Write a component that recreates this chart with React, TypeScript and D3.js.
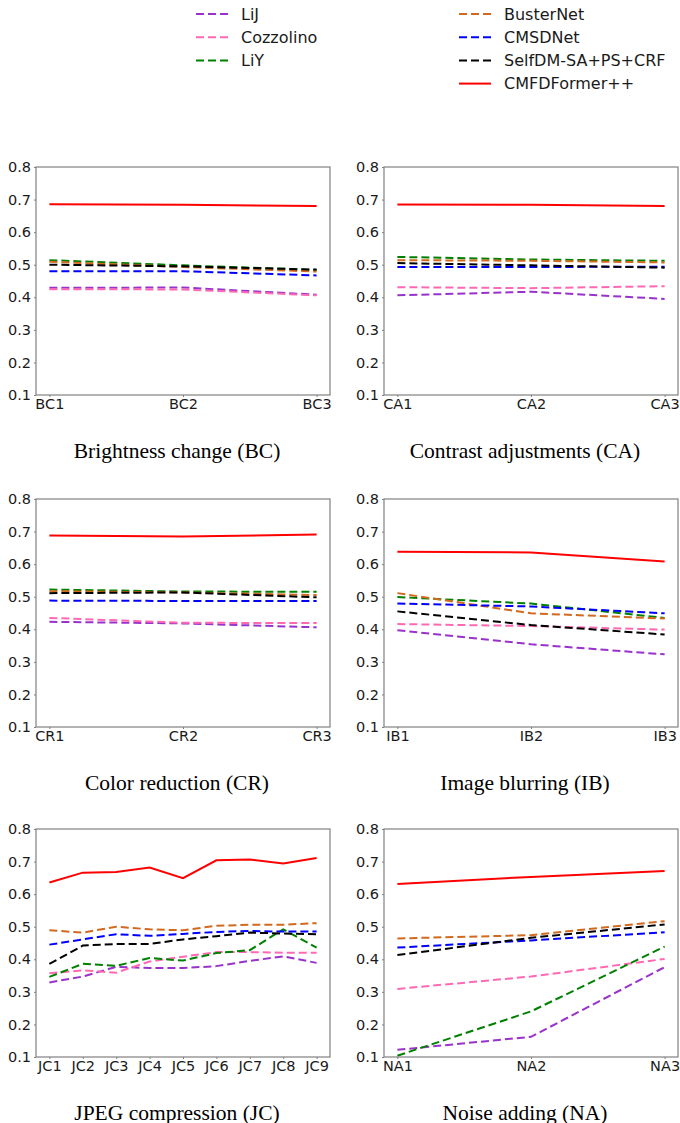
import React, {useEffect, useRef} from 'react';
import * as d3 from 'd3';

const methods = ['LiJ', 'Cozzolino', 'LiY', 'BusterNet', 'CMSDNet', 'SelfDM-SA+PS+CRF', 'CMFDFormer++'];
const colors = ['#9932CC', '#FF69B4', '#008000', '#D2691E', '#0000FF', '#000000', '#FF0000'];
const yTicks = [0.1, 0.2, 0.3, 0.4, 0.5, 0.6, 0.7, 0.8];

const panelTitles = ['Brightness change (BC)', 'Contrast adjustments (CA)', 'Color reduction (CR)',
    'Image blurring (IB)', 'JPEG compression (JC)', 'Noise adding (NA)'];

const bcLabels = ['BC1', 'BC2', 'BC3'];
const caLabels = ['CA1', 'CA2', 'CA3'];
const crLabels = ['CR1', 'CR2', 'CR3'];
const ibLabels = ['IB1', 'IB2', 'IB3'];
const jcLabels = ['JC1', 'JC2', 'JC3', 'JC4', 'JC5', 'JC6', 'JC7', 'JC8', 'JC9'];
const naLabels = ['NA1', 'NA2', 'NA3'];

// one row per method, same order as `methods`
const bcValues = [
    [0.429, 0.430, 0.408],
    [0.425, 0.424, 0.406],
    [0.514, 0.498, 0.484],
    [0.509, 0.493, 0.479],
    [0.480, 0.480, 0.467],
    [0.500, 0.495, 0.485],
    [0.686, 0.684, 0.680],
];
const caValues = [
    [0.406, 0.417, 0.395],
    [0.431, 0.428, 0.434],
    [0.524, 0.516, 0.512],
    [0.514, 0.512, 0.507],
    [0.493, 0.493, 0.494],
    [0.505, 0.498, 0.491],
    [0.685, 0.684, 0.680],
];
const crValues = [
    [0.423, 0.418, 0.406],
    [0.435, 0.420, 0.419],
    [0.522, 0.516, 0.515],
    [0.517, 0.513, 0.505],
    [0.488, 0.487, 0.487],
    [0.511, 0.513, 0.498],
    [0.688, 0.685, 0.691],
];
const ibValues = [
    [0.397, 0.354, 0.323],
    [0.416, 0.410, 0.399],
    [0.499, 0.479, 0.435],
    [0.511, 0.449, 0.433],
    [0.479, 0.470, 0.449],
    [0.455, 0.413, 0.384],
    [0.638, 0.636, 0.608],
];
const jcValues = [
    [0.329, 0.347, 0.377, 0.373, 0.373, 0.379, 0.395, 0.409, 0.389],
    [0.357, 0.366, 0.359, 0.393, 0.408, 0.422, 0.422, 0.420, 0.420],
    [0.346, 0.386, 0.380, 0.404, 0.396, 0.419, 0.428, 0.492, 0.436],
    [0.489, 0.482, 0.500, 0.492, 0.489, 0.503, 0.506, 0.506, 0.511],
    [0.445, 0.461, 0.477, 0.472, 0.478, 0.484, 0.487, 0.485, 0.485],
    [0.386, 0.442, 0.447, 0.447, 0.461, 0.471, 0.482, 0.479, 0.477],
    [0.636, 0.666, 0.668, 0.682, 0.649, 0.704, 0.706, 0.694, 0.711],
];
const naValues = [
    [0.122, 0.162, 0.376],
    [0.309, 0.347, 0.401],
    [0.104, 0.240, 0.439],
    [0.464, 0.474, 0.517],
    [0.436, 0.458, 0.483],
    [0.413, 0.466, 0.507],
    [0.631, 0.653, 0.671],
];

const panelLabels = [bcLabels, caLabels, crLabels, ibLabels, jcLabels, naLabels];
const panelValues = [bcValues, caValues, crValues, ibValues, jcValues, naValues];

const W = 680, H = 1123;
const plotW = 294, plotH = 228;
const colX = [36, 384];
const rowY = [167, 499, 829];
const sans = '"DejaVu Sans", sans-serif';
const serif = '"Liberation Serif", "Times New Roman", serif';

function App() {
    const ref = useRef<SVGSVGElement>(null);

    useEffect(() => {
        const svg = d3.select(ref.current);
        svg.selectAll('*').remove();

        // legend, two columns
        const legendItems = methods.map((m, i) => ({
            name: m,
            color: colors[i],
            col: i < 3 ? 0 : 1,
            row: i < 3 ? i : i - 3,
        }));
        const legCol = [196, 459];
        const leg = svg.append('g').selectAll('g')
            .data(legendItems)
            .enter()
            .append('g')
            .attr('transform', d => `translate(${legCol[d.col]},${14 + d.row * 23.2})`);
        leg.append('line')
            .attr('x1', 0).attr('x2', 32)
            .attr('stroke', d => d.color)
            .attr('stroke-width', 2)
            .attr('stroke-dasharray', d => d.name === 'CMFDFormer++' ? null : '8,4');
        leg.append('text')
            .attr('x', 45)
            .attr('dy', '0.35em')
            .style('font-family', sans)
            .style('font-size', '16px')
            .attr('fill', '#1a1a1a')
            .text(d => d.name);

        panelLabels.forEach((labels, p) => {
            const left = colX[p % 2];
            const top = rowY[Math.floor(p / 2)];
            const g = svg.append('g').attr('transform', `translate(${left},${top})`);

            const pad = plotW * 0.0455;
            const x = d3.scalePoint<string>()
                .domain(labels)
                .range([pad, plotW - pad]);
            const y = d3.scaleLinear()
                .domain([0.1, 0.8])
                .range([plotH, 0]);

            const clipId = 'clip' + p;
            g.append('clipPath').attr('id', clipId)
                .append('rect').attr('width', plotW).attr('height', plotH);

            const line = d3.line<number>()
                .x((d, i) => x(labels[i]) as number)
                .y(d => y(d));

            panelValues[p].forEach((vals, i) => {
                g.append('path')
                    .datum(vals)
                    .attr('clip-path', `url(#${clipId})`)
                    .attr('d', line)
                    .attr('fill', 'none')
                    .attr('stroke', colors[i])
                    .attr('stroke-width', 2)
                    .attr('stroke-dasharray', i === 6 ? null : '8,4');
            });

            // frame
            g.append('rect')
                .attr('width', plotW)
                .attr('height', plotH)
                .attr('fill', 'none')
                .attr('stroke', '#808080')
                .attr('stroke-width', 1.2);

            const yAxis = g.append('g')
                .call(d3.axisLeft(y).tickValues(yTicks).tickFormat(d3.format('.1f')).tickSize(2).tickPadding(3));
            const xAxis = g.append('g')
                .attr('transform', `translate(0,${plotH})`)
                .call(d3.axisBottom(x).tickSize(2).tickPadding(2));
            [yAxis, xAxis].forEach(a => {
                a.select('.domain').remove();
                a.selectAll('line').attr('stroke', '#808080');
                a.selectAll('text')
                    .style('font-family', sans)
                    .style('font-size', '14.5px')
                    .attr('fill', '#1a1a1a');
            });

            g.append('text')
                .attr('x', plotW / 2 - 6)
                .attr('y', plotH + 63)
                .attr('text-anchor', 'middle')
                .style('font-family', serif)
                .style('font-size', '21.5px')
                .attr('fill', '#000')
                .text(panelTitles[p]);
        });
    }, []);

    return (
        <svg ref={ref} width={W} height={H}
             style={{position: 'absolute', left: 0, top: 0, background: '#fff'}}/>
    );
}

export default App;
